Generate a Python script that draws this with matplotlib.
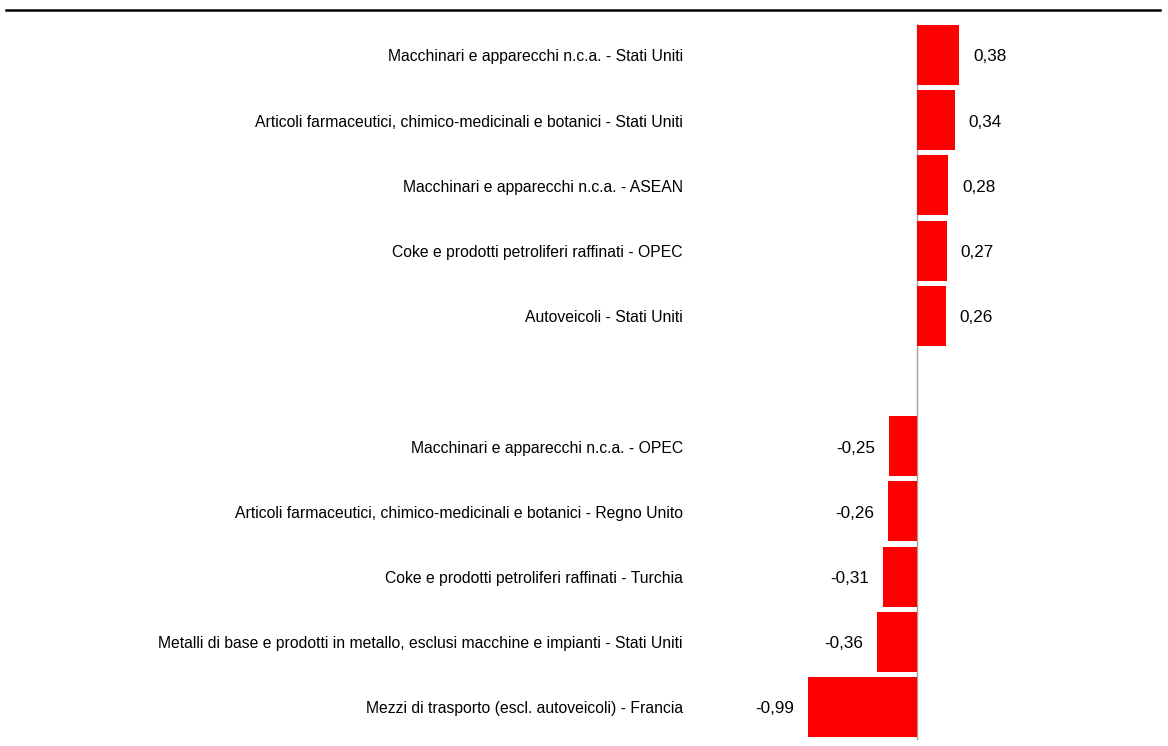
import matplotlib
matplotlib.use("Agg")
import matplotlib.pyplot as plt
from matplotlib.lines import Line2D
import matplotlib.transforms as mtransforms

plt.rcParams["font.family"] = ["Liberation Sans", "DejaVu Sans"]

# Data (top to bottom); None marks the empty gap row
labels = [
    "Macchinari e apparecchi n.c.a. - Stati Uniti",
    "Articoli farmaceutici, chimico-medicinali e botanici - Stati Uniti",
    "Macchinari e apparecchi n.c.a. - ASEAN",
    "Coke e prodotti petroliferi raffinati - OPEC",
    "Autoveicoli - Stati Uniti",
    "",
    "Macchinari e apparecchi n.c.a. - OPEC",
    "Articoli farmaceutici, chimico-medicinali e botanici - Regno Unito",
    "Coke e prodotti petroliferi raffinati - Turchia",
    "Metalli di base e prodotti in metallo, esclusi macchine e impianti - Stati Uniti",
    "Mezzi di trasporto (escl. autoveicoli) - Francia",
]
values = [0.38, 0.34, 0.28, 0.27, 0.26, None, -0.25, -0.26, -0.31, -0.36, -0.99]

W, H = 1168, 746
fig = plt.figure(figsize=(W / 100, H / 100), dpi=100)

# zero at pixel 917, ~110.4 px per unit
scale = 110.4
x0 = 917
ax = fig.add_axes([0, 6.4 / H, 1, (739.6 - 22.4) / H])
ax.set_xlim(-x0 / scale, (W - x0) / scale)
ax.set_ylim(len(values) - 0.5, -0.5)
ax.axis("off")

ax.axvline(0, color="#a0a0a0", lw=1.0, ymin=0, ymax=0.998, zorder=1)

lab_tr = mtransforms.blended_transform_factory(fig.transFigure, ax.transData)
for i, (lab, v) in enumerate(zip(labels, values)):
    if v is None:
        continue
    ax.barh(i, v, height=0.92, color="#ff0000", edgecolor="none", zorder=2)
    ax.text(683 / W, i + 0.03, lab, transform=lab_tr, ha="right", va="center",
            fontsize=11.35, color="black")
    txt = f"{v:.2f}".replace(".", ",")
    off = 14 / scale
    if v >= 0:
        ax.text(v + off, i + 0.03, txt, ha="left", va="center", fontsize=12.3)
    else:
        ax.text(v - off, i + 0.03, txt, ha="right", va="center", fontsize=12.3)

fig.add_artist(Line2D([6 / W, 1160 / W], [1 - 9.5 / H, 1 - 9.5 / H],
                      transform=fig.transFigure, color="black", lw=1.8))

fig.savefig("out.png", dpi=100)
